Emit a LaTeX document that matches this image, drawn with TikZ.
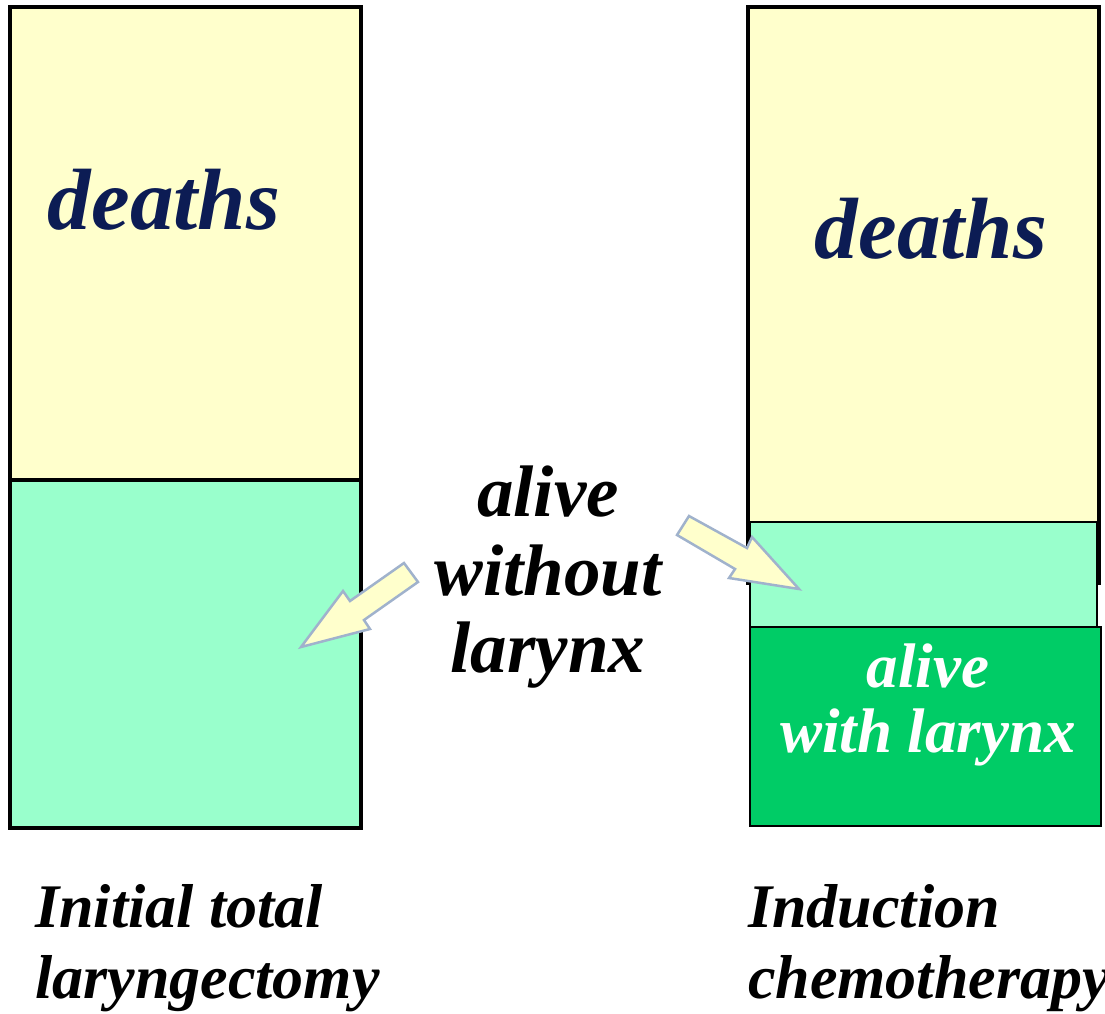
\documentclass[tikz,border=0pt]{standalone}
\usepackage{fontspec}
\setmainfont{Liberation Serif}
\definecolor{paleyellow}{RGB}{255,255,204}
\definecolor{palegreen}{RGB}{153,255,204}
\definecolor{darkgreen}{RGB}{0,204,102}
\definecolor{navytext}{RGB}{12,28,84}
\definecolor{arrowline}{RGB}{160,178,204}
\tikzset{
  bar/.style={draw=black, inner sep=0pt, outer sep=0pt, anchor=north west},
  bigtxt/.style={font=\bfseries\itshape, inner sep=0pt, anchor=base},
  blockarrow/.style={fill=paleyellow, draw=arrowline, line width=2.5pt, line join=miter},
}
\begin{document}
\begin{tikzpicture}[x=1pt,y=-1pt]
\useasboundingbox (0,0) rectangle (1105,1013);
% left bar
\node[bar, fill=paleyellow, line width=4pt, minimum width=351pt, minimum height=473pt] (ldeath) at (10,7) {};
\node[bar, fill=palegreen, line width=4pt, minimum width=351pt, minimum height=348pt] (lalive) at (10,480) {};
% right bar
\node[bar, fill=paleyellow, line width=4pt, minimum width=351pt, minimum height=576pt] (rdeath) at (748,7) {};
\node[bar, fill=palegreen, line width=2pt, minimum width=347pt, minimum height=105pt] (rnolar) at (750,522) {};
\node[bar, fill=darkgreen, line width=2.5pt, minimum width=351pt, minimum height=199pt] (rlar) at (750,627) {};
% texts
\node[bigtxt, text=navytext, font=\fontsize{87}{90}\selectfont\bfseries\itshape] (ldtxt) at (164,229) {deaths};
\node[bigtxt, text=navytext, font=\fontsize{87}{90}\selectfont\bfseries\itshape] (rdtxt) at (931,258) {deaths};
\node[bigtxt, font=\fontsize{73}{78}\selectfont\bfseries\itshape] (t1) at (548,516) {alive};
\node[bigtxt, font=\fontsize{73}{78}\selectfont\bfseries\itshape] (t2) at (548,595) {without};
\node[bigtxt, font=\fontsize{73}{78}\selectfont\bfseries\itshape] (t3) at (548,672) {larynx};
\node[bigtxt, text=white, font=\fontsize{63}{66}\selectfont\bfseries\itshape] (w1) at (928,687) {alive};
\node[bigtxt, text=white, font=\fontsize{63}{66}\selectfont\bfseries\itshape] (w2) at (928,752) {with larynx};
\node[bigtxt, anchor=base west, font=\fontsize{62}{66}\selectfont\bfseries\itshape] (b1) at (35,927) {Initial total};
\node[bigtxt, anchor=base west, font=\fontsize{62}{66}\selectfont\bfseries\itshape] (b2) at (35,998) {laryngectomy};
\node[bigtxt, anchor=base west, font=\fontsize{62}{66}\selectfont\bfseries\itshape] (b3) at (748,927) {Induction};
\node[bigtxt, anchor=base west, font=\fontsize{62}{66}\selectfont\bfseries\itshape] (b4) at (748,998) {chemotherapy};
% block arrows
\draw[blockarrow] (404,563) -- (350,601) -- (343,591) -- (301,647) -- (370,629) -- (364,620) -- (418,582) -- cycle;
\draw[blockarrow] (689,516) -- (747,548) -- (752,537) -- (799,589) -- (729,578) -- (735,569) -- (677,535) -- cycle;
\end{tikzpicture}
\end{document}
